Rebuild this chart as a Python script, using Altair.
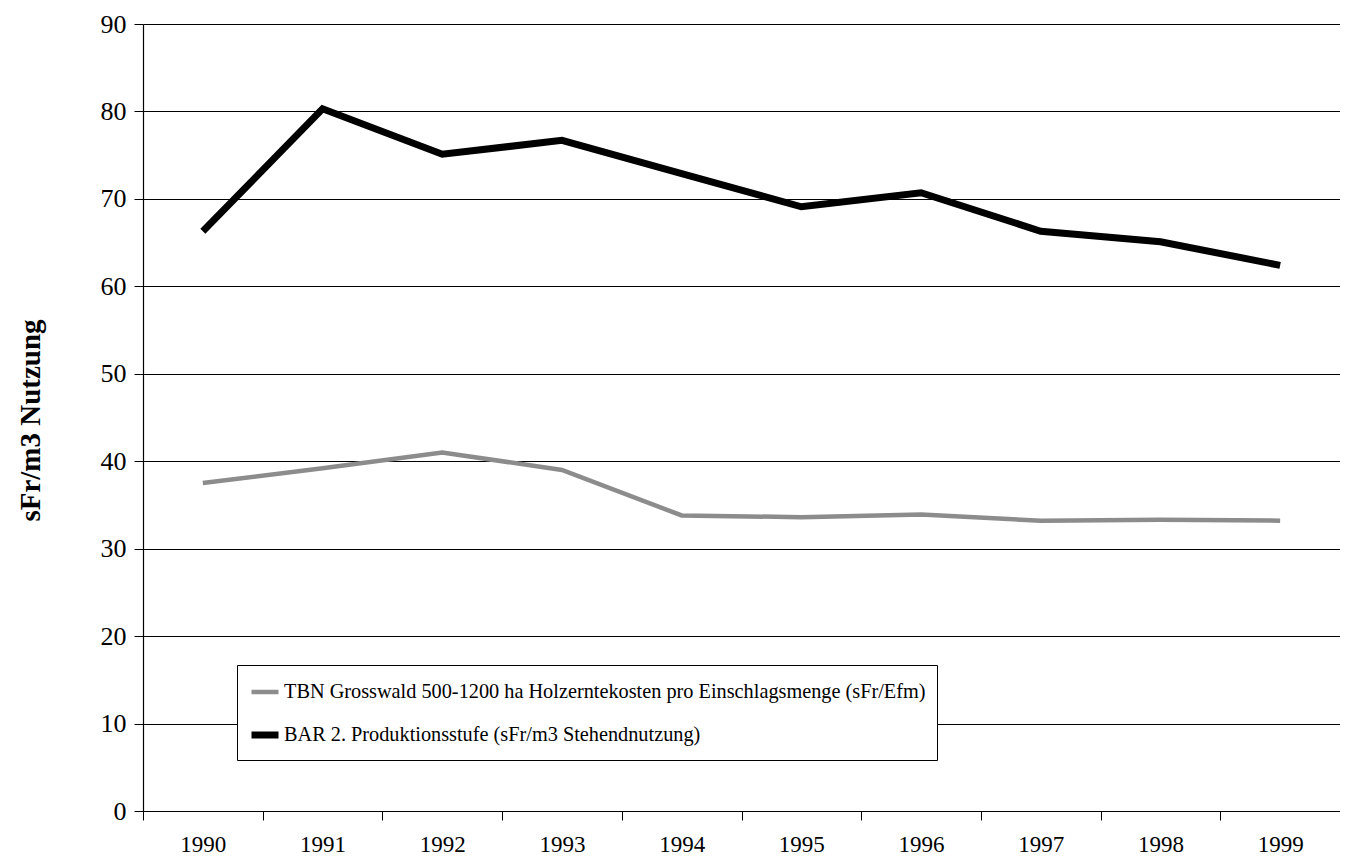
import altair as alt
import pandas as pd

years = ["1990", "1991", "1992", "1993", "1994", "1995", "1996", "1997", "1998", "1999"]
tbn = [37.5, 39.2, 41.0, 39.0, 33.8, 33.6, 33.9, 33.2, 33.3, 33.2]
bar = [66.3, 80.3, 75.1, 76.7, 72.9, 69.1, 70.7, 66.3, 65.1, 62.4]
series_names = [
    "TBN Grosswald 500-1200 ha Holzerntekosten pro Einschlagsmenge (sFr/Efm)",
    "BAR 2. Produktionsstufe (sFr/m3 Stehendnutzung)",
]
y_ticks = [0, 10, 20, 30, 40, 50, 60, 70, 80, 90]

rows = []
for name, vals in zip(series_names, [tbn, bar]):
    for yr, v in zip(years, vals):
        rows.append({"year": yr, "value": v, "series": name})
df = pd.DataFrame(rows)

FONT = "Liberation Serif"

chart = (
    alt.Chart(df)
    .mark_line(strokeJoin="miter", strokeCap="butt")
    .encode(
        x=alt.X(
            "year:O",
            sort=years,
            bandPosition=0.5,
            scale=alt.Scale(type="band", paddingInner=0, paddingOuter=0),
            axis=alt.Axis(
                title=None,
                grid=False,
                labelAngle=0,
                labelFontSize=23,
                labelPadding=13,
                tickBand="extent",
                tickSize=9,
            ),
        ),
        y=alt.Y(
            "value:Q",
            scale=alt.Scale(domain=[0, 90], nice=False),
            axis=alt.Axis(
                values=y_ticks,
                title="sFr/m3 Nutzung",
                titleFontSize=29,
                titleFontWeight="bold",
                titleX=-113,
                titleY=396,
                titleAngle=270,
                titleAlign="center",
                titleBaseline="middle",
                labelFontSize=26,
                labelPadding=8,
                tickSize=9,
                grid=True,
            ),
        ),
        color=alt.Color(
            "series:O",
            scale=alt.Scale(domain=series_names, range=["#8c8c8c", "#000000"]),
            sort=series_names,
            legend=alt.Legend(
                title=None,
                orient="none",
                legendX=94,
                legendY=641,
                symbolType="stroke",
                symbolSize=729,
                labelFontSize=20.3,
                labelLimit=0,
                labelOffset=2,
                rowPadding=15,
                padding=11,
                fillColor="white",
                strokeColor="black",
            ),
        ),
        strokeWidth=alt.StrokeWidth(
            "series:O",
            scale=alt.Scale(domain=series_names, range=[4.5, 7]),
            sort=series_names,
            legend=alt.Legend(title=None),
        ),
    )
    .properties(
        width=1197,
        height=787,
        padding={"left": 135, "top": 16, "right": 0, "bottom": 48},
        autosize=alt.AutoSizeParams(type="none"),
    )
    .configure_view(stroke="transparent")
    .configure_axis(
        labelFont=FONT,
        titleFont=FONT,
        labelColor="black",
        titleColor="black",
        domainColor="black",
        tickColor="black",
        gridColor="black",
        gridOpacity=1,
        gridWidth=1,
        domainWidth=1.2,
        tickWidth=1,
    )
    .configure_legend(labelFont=FONT, labelColor="black")
)

chart.save("out.html", embed_options={"renderer": "svg", "actions": False})
